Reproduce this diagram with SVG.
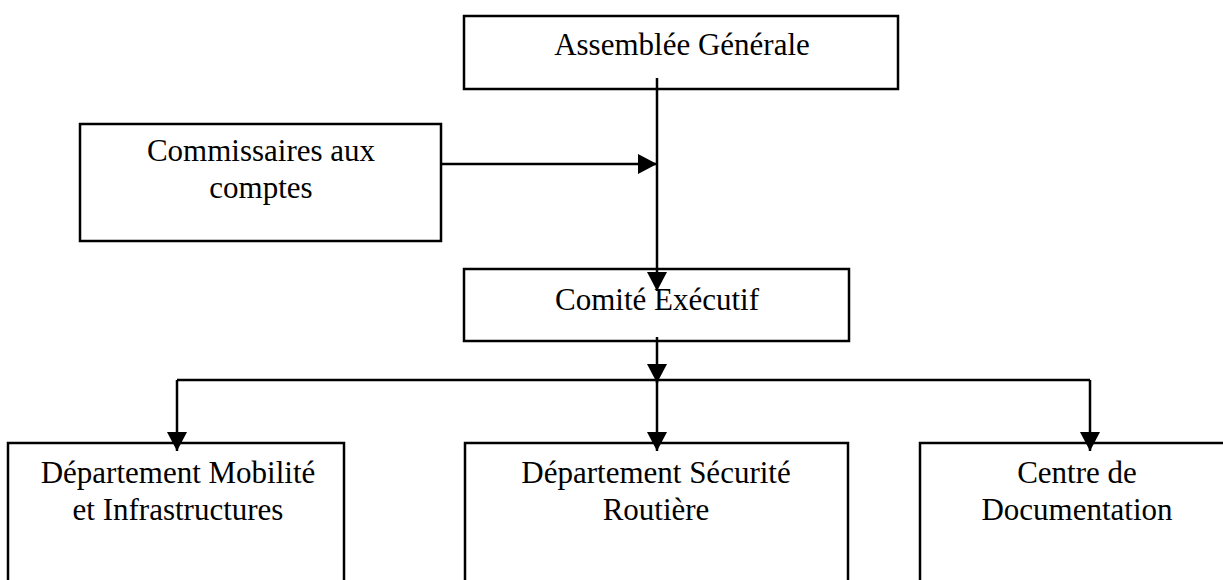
<svg xmlns="http://www.w3.org/2000/svg" width="1223" height="580" viewBox="0 0 1223 580">
<style>
.box{fill:#fff;stroke:#000;stroke-width:2.5}
.lbl{font-family:"Liberation Serif","Times New Roman",serif;font-size:31px;fill:#000;text-anchor:middle}
.con{fill:none;stroke:#000;stroke-width:2.5}
</style>
<defs>
<marker id="arr" viewBox="0 0 19 20" refX="19" refY="10" markerWidth="19" markerHeight="20" markerUnits="userSpaceOnUse" orient="auto">
<path d="M0,0 L19,10 L0,20 z" fill="#000"/>
</marker>
</defs>
<rect width="1223" height="580" fill="#fff"/>
<g id="assemblee">
<rect class="box" x="464" y="16" width="434" height="73"/>
<text class="lbl" x="682" y="55">Assemblée Générale</text>
</g>
<g id="commissaires">
<rect class="box" x="80" y="124" width="361" height="117"/>
<text class="lbl" x="261" y="161">Commissaires aux</text>
<text class="lbl" x="261" y="198">comptes</text>
</g>
<g id="comite">
<rect class="box" x="464" y="269" width="385" height="72"/>
<text class="lbl" x="657" y="310">Comité Exécutif</text>
</g>
<g id="dept-mobilite">
<rect class="box" x="8" y="443" width="336" height="160"/>
<text class="lbl" x="178" y="483">Département Mobilité</text>
<text class="lbl" x="178" y="520">et Infrastructures</text>
</g>
<g id="dept-securite">
<rect class="box" x="465" y="443" width="383" height="160"/>
<text class="lbl" x="656" y="483">Département Sécurité</text>
<text class="lbl" x="656" y="520">Routière</text>
</g>
<g id="centre-doc">
<rect class="box" x="920" y="443" width="320" height="160"/>
<text class="lbl" x="1077" y="483">Centre de</text>
<text class="lbl" x="1077" y="520">Documentation</text>
</g>
<g id="connectors">
<path class="con" d="M657,78 V291" marker-end="url(#arr)"/>
<path class="con" d="M441,164 H657" marker-end="url(#arr)"/>
<path class="con" d="M657,337 V383" marker-end="url(#arr)"/>
<path class="con" d="M177,380 H1090"/>
<path class="con" d="M657,380 V451" marker-end="url(#arr)"/>
<path class="con" d="M177,380 V451" marker-end="url(#arr)"/>
<path class="con" d="M1090,380 V451" marker-end="url(#arr)"/>
</g>
</svg>
